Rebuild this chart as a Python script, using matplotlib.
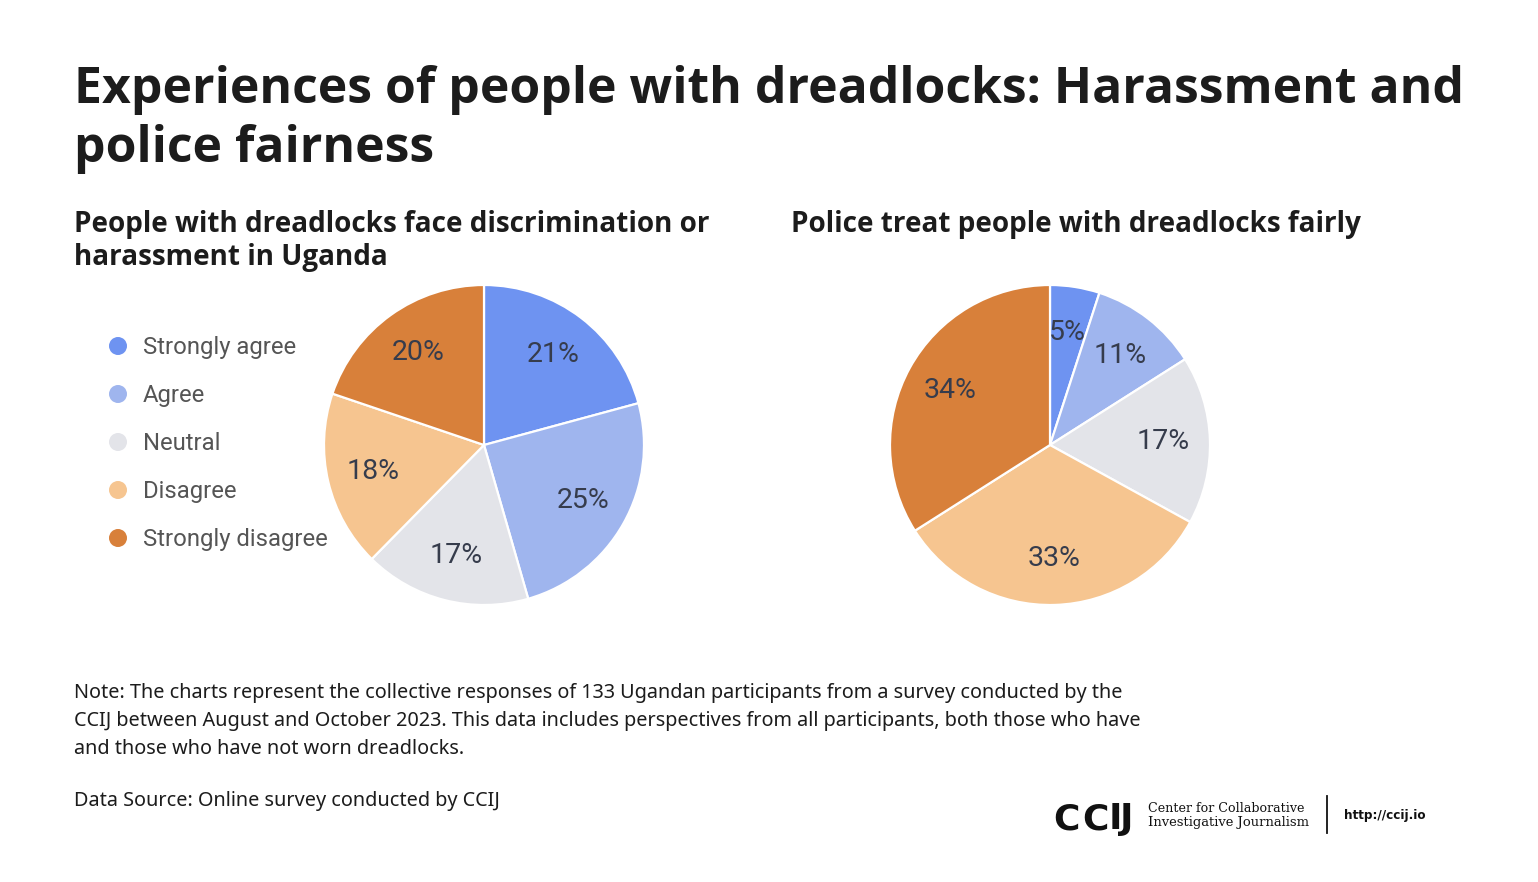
import matplotlib
matplotlib.use("Agg")
import matplotlib.pyplot as plt
from matplotlib import font_manager

# ---------------- data ----------------
categories = ["Strongly agree", "Agree", "Neutral", "Disagree", "Strongly disagree"]
harassment_pct = [21, 25, 17, 18, 20]
police_fair_pct = [5, 11, 17, 33, 34]
colors = ["#6e93f1", "#9fb5ee", "#e3e4e9", "#f6c590", "#d8803a"]

title_lines = ["Experiences of people with dreadlocks: Harassment and", "police fairness"]
sub1_lines = ["People with dreadlocks face discrimination or", "harassment in Uganda"]
sub2 = "Police treat people with dreadlocks fairly"
note_lines = [
    "Note: The charts represent the collective responses of 133 Ugandan participants from a survey conducted by the",
    "CCIJ between August and October 2023. This data includes perspectives from all participants, both those who have",
    "and those who have not worn dreadlocks.",
]
source = "Data Source: Online survey conducted by CCIJ"

W, H = 1538, 882
fig = plt.figure(figsize=(W / 100, H / 100), dpi=100)
fig.patch.set_facecolor("white")
renderer = fig.canvas.get_renderer()

# choose a bold heading family that really has a bold face
bold_family = "Open Sans"
for fam in ["Noto Sans", "Open Sans"]:
    try:
        path = font_manager.findfont(font_manager.FontProperties(family=fam, weight="bold"),
                                     fallback_to_default=False)
        if "bold" in path.lower():
            bold_family = fam
            break
    except Exception:
        pass


def fx(x):
    return x / W


def fy(y):
    return 1 - y / H


def fit_text(x, y, s, target_w, size0, **kw):
    t = fig.text(fx(x), fy(y), s, fontsize=size0, va="baseline", **kw)
    bb = t.get_window_extent(renderer=renderer)
    if bb.width > 0:
        t.set_fontsize(size0 * target_w / bb.width)
    return t


dark = "#1c1c1c"
# Title
t1 = fit_text(74, 103, title_lines[0], 1390, 34, family=bold_family, weight="bold", color=dark)
fig.text(fx(74), fy(162), title_lines[1], va="baseline", family=bold_family, weight="bold",
         color=dark, fontsize=t1.get_fontsize())

# Subtitles
s1 = fit_text(74, 232, sub1_lines[0], 637, 18, family=bold_family, weight="bold", color=dark)
fig.text(fx(74), fy(265), sub1_lines[1], va="baseline", family=bold_family, weight="bold",
         color=dark, fontsize=s1.get_fontsize())
fig.text(fx(791), fy(232), sub2, va="baseline", family=bold_family, weight="bold",
         color=dark, fontsize=s1.get_fontsize())

# Pies
R = 160


def make_pie(cx, cy, values):
    ax = fig.add_axes([fx(cx - R), fy(cy + R), 2 * R / W, 2 * R / H])
    ax.pie(values, colors=colors, startangle=90, counterclock=False,
           labels=[f"{v}%" for v in values], labeldistance=0.71,
           wedgeprops=dict(edgecolor="white", linewidth=1.6),
           textprops=dict(family="Roboto", fontsize=20.5, color="#363c4c",
                          ha="center", va="center"))
    ax.set_xlim(-1, 1)
    ax.set_ylim(-1, 1)
    ax.set_aspect("auto")
    ax.axis("off")
    return ax


make_pie(484, 445, harassment_pct)
make_pie(1050, 445, police_fair_pct)

# Legend
for i, (cat, col) in enumerate(zip(categories, colors)):
    y = 345 + 48 * i
    fig.patches.append(matplotlib.patches.Ellipse((fx(118), fy(y + 1)), 18 / W, 18 / H,
                                                  transform=fig.transFigure, facecolor=col,
                                                  edgecolor="none"))
    fig.text(fx(143), fy(y), cat, va="center_baseline", ha="left", family="Roboto",
             fontsize=17.2, color="#555555")

# Notes
n0 = fit_text(74, 698, note_lines[0], 1052, 13, family="Noto Sans", color=dark)
for i, line in enumerate(note_lines[1:], start=1):
    fig.text(fx(74), fy(698 + 28 * i), line, va="baseline", family="Noto Sans",
             color=dark, fontsize=n0.get_fontsize())
fig.text(fx(74), fy(806), source, va="baseline", family="Noto Sans", color=dark,
         fontsize=n0.get_fontsize())

# Logo
letter_x = [1053, 1082, 1109, 1120]
for ch, lx in zip("CCIJ", letter_x):
    fig.text(fx(lx), fy(829), ch, va="baseline", ha="left", family="DejaVu Sans",
             weight="bold", fontsize=26, color="#111111")
fit_text(1148, 812, "Center for Collaborative", 157, 10, family="DejaVu Serif", color="#111111")
fit_text(1148, 826, "Investigative Journalism", 162, 10, family="DejaVu Serif", color="#111111")
fig.add_artist(matplotlib.lines.Line2D([fx(1327), fx(1327)], [fy(796), fy(833)],
                                       transform=fig.transFigure, color="#111111", linewidth=1.3))
fit_text(1344, 819, "http://ccij.io", 81, 10, family="DejaVu Sans", weight="bold", color="#111111")

fig.savefig("out.png", dpi=100, facecolor="white")
